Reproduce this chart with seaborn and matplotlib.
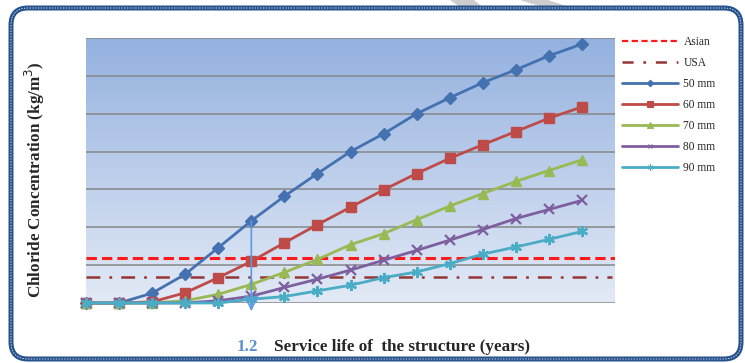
import numpy as np
import pandas as pd
import matplotlib
matplotlib.use("Agg")
import matplotlib.pyplot as plt
import seaborn as sns
from matplotlib.patches import FancyBboxPatch, Polygon
from matplotlib.lines import Line2D
from matplotlib.colors import LinearSegmentedColormap
from matplotlib.transforms import IdentityTransform

# Service life (years) and chloride concentration at each cover depth
years = list(range(0, 80, 5))
c50 = [0, 0, 0.26, 0.76, 1.46, 2.17, 2.82, 3.42, 4.00, 4.47, 5.00, 5.42, 5.82, 6.16, 6.53, 6.84]
c60 = [0, 0, 0.03, 0.27, 0.67, 1.10, 1.59, 2.07, 2.53, 2.99, 3.42, 3.82, 4.18, 4.53, 4.88, 5.18]
c70 = [0, 0, 0, 0.06, 0.23, 0.49, 0.81, 1.15, 1.54, 1.83, 2.20, 2.56, 2.89, 3.21, 3.50, 3.78]
c80 = [0, 0, 0, 0, 0.06, 0.18, 0.41, 0.63, 0.87, 1.13, 1.39, 1.66, 1.94, 2.23, 2.47, 2.71]
c90 = [0, 0, 0, 0, 0, 0.10, 0.17, 0.32, 0.47, 0.67, 0.82, 1.04, 1.29, 1.48, 1.68, 1.89]
series_labels = ["50 mm", "60 mm", "70 mm", "80 mm", "90 mm"]
asian_limit = 1.19
usa_limit = 0.69

sns.set_theme(style="white")
plt.rcParams["font.family"] = ["Liberation Serif", "DejaVu Serif"]
plt.rcParams["lines.scale_dashes"] = False

fig = plt.figure(figsize=(7.45, 3.63), dpi=100)
ax = fig.add_axes([86 / 745, 1 - 303 / 363, 529 / 745, 265 / 363])

# gradient plot background
cmap = LinearSegmentedColormap.from_list("bg", ["#e3eaf6", "#94b1df"])
ax.imshow(np.linspace(0, 1, 256).reshape(-1, 1), cmap=cmap, origin="lower",
          extent=[0, 80, 0, 7], aspect="auto", zorder=0)

df = pd.DataFrame({"year": years, "50 mm": c50, "60 mm": c60, "70 mm": c70,
                   "80 mm": c80, "90 mm": c90})
long = df.melt(id_vars="year", var_name="cover", value_name="chloride")

styles = {
    "50 mm": dict(color="#4472b0", marker="D", ms=6, mew=1),
    "60 mm": dict(color="#be4b48", marker="s", ms=7, mew=1),
    "70 mm": dict(color="#98b954", marker="^", ms=7, mew=1),
    "80 mm": dict(color="#7d5fa0", marker="x", ms=6.5, mew=1.6),
    "90 mm": dict(color="#4aacc5", marker=(6, 2, 0), ms=8, mew=1.6),
}

ax.axhline(asian_limit, color="#ff1a1a", lw=2.2, dashes=(7.5, 3.6), zorder=2)
ax.axhline(usa_limit, xmax=0.995, color="#943634", lw=1.8,
           dashes=(10, 6.5, 2, 6.5), zorder=2)

for lab in series_labels:
    st = styles[lab]
    sub = long[long["cover"] == lab]
    sns.lineplot(data=sub, x="year", y="chloride", ax=ax, color=st["color"],
                 marker=st["marker"], markersize=st["ms"], markeredgewidth=st["mew"],
                 markeredgecolor=st["color"], lw=2, zorder=3, legend=False,
                 clip_on=False)

# arrow from the 50 mm curve at year 25 down to the time axis
arrow = ax.annotate("", xy=(25, -0.22), xytext=(25, c50[5]),
                    arrowprops=dict(arrowstyle="->,head_width=0.38,head_length=0.8",
                                    color="#5b9be0", lw=1.2, shrinkA=0, shrinkB=0),
                    annotation_clip=False, zorder=5)
arrow.arrow_patch.set_clip_on(False)

ax.set_xlim(0, 80)
ax.set_ylim(0, 7)
ax.set_yticks(range(8))
ax.set_xticks([])
ax.yaxis.grid(True, color="#878787", lw=1.1)
ax.set_axisbelow(True)
ax.tick_params(length=0, labelleft=False, labelbottom=False)
for sp in ax.spines.values():
    sp.set_visible(False)
ax.set_xlabel("")
ax.set_ylabel("")

fig.text(35 / 745, 1 - 180 / 363, "Chloride Concentration (kg/m$^3$)", rotation=90,
         ha="center", va="center", fontsize=12.3, fontweight="bold")
fig.text(247 / 745, 1 - 347 / 363, "1.2", ha="center", va="center",
         fontsize=12.3, color="#5b8fd0", fontweight="bold")
fig.text(274 / 745, 1 - 347 / 363, "Service life of  the structure (years)",
         ha="left", va="center", fontsize=12.3, fontweight="bold")

# legend
handles = [
    Line2D([], [], color="#ff1a1a", lw=1.6, dashes=(4.5, 2.5)),
    Line2D([], [], color="#943634", lw=1.8, dashes=(8, 7, 2, 7)),
]
for lab in series_labels:
    st = styles[lab]
    handles.append(Line2D([], [], color=st["color"], lw=2, marker=st["marker"],
                          ms=st["ms"] * 0.55, mew=0.8, mec=st["color"]))
fig.legend(handles, ["Asian", "USA"] + series_labels, loc="upper left",
           bbox_to_anchor=(616 / 745, 1 - 30 / 363), frameon=False, fontsize=8.3,
           handlelength=4.9, handletextpad=0.45, labelspacing=0.78, borderpad=0)

# rounded double-line frame
frame = FancyBboxPatch((11, 4), 730, 351, boxstyle="round,pad=0,rounding_size=17",
                       transform=IdentityTransform(), fill=False,
                       edgecolor="#27528d", lw=3.6, zorder=10)
frame_inner = FancyBboxPatch((11, 4), 730, 351, boxstyle="round,pad=0,rounding_size=17",
                             transform=IdentityTransform(), fill=False,
                             edgecolor="#dfe6f2", lw=0.6, ls=(0, (1, 1)), zorder=11)
fig.patches.extend([frame, frame_inner])

# faint grey strokes at the top edge
for pts in ([(450, 363), (474, 363), (486, 353), (464, 353)],
            [(520, 363), (548, 363), (578, 353), (552, 353)]):
    fig.patches.append(Polygon(pts, closed=True, transform=IdentityTransform(),
                               facecolor="#cdcdcd", edgecolor="none", zorder=1))

fig.savefig("out.png", dpi=100)
